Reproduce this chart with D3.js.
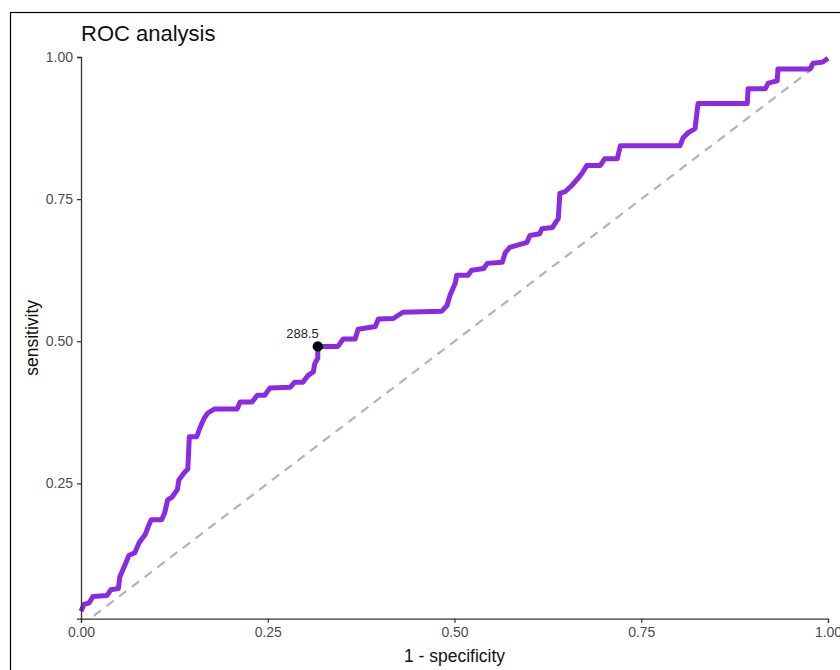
<!DOCTYPE html>
<html>
<head>
<meta charset="utf-8">
<script src="https://cdn.jsdelivr.net/npm/d3@7"></script>
<style>
  body { margin: 0; background: #fff; }
  svg { display: block; font-family: "Liberation Sans", Arial, sans-serif; }
</style>
</head>
<body>
<div id="chart"></div>
<script>
// ROC points: 1 - specificity and sensitivity
const fpr = [0, 0.004, 0.011, 0.016, 0.035, 0.040, 0.050, 0.052, 0.059, 0.064,
  0.072, 0.078, 0.086, 0.090, 0.094, 0.108, 0.112, 0.116, 0.122, 0.129,
  0.131, 0.139, 0.143, 0.145, 0.155, 0.159, 0.165, 0.170, 0.179, 0.209,
  0.213, 0.229, 0.236, 0.246, 0.253, 0.280, 0.286, 0.297, 0.304, 0.311,
  0.313, 0.317, 0.317, 0.344, 0.351, 0.367, 0.371, 0.394, 0.398, 0.418,
  0.431, 0.483, 0.490, 0.494, 0.501, 0.503, 0.518, 0.523, 0.539, 0.544,
  0.564, 0.568, 0.574, 0.597, 0.601, 0.614, 0.617, 0.631, 0.639, 0.641,
  0.648, 0.657, 0.665, 0.671, 0.677, 0.695, 0.701, 0.718, 0.722, 0.802,
  0.806, 0.813, 0.822, 0.826, 0.892, 0.893, 0.916, 0.920, 0.932, 0.933,
  0.976, 0.980, 0.993, 1.000];
const tpr = [0.025, 0.037, 0.040, 0.051, 0.053, 0.063, 0.065, 0.086, 0.107, 0.123,
  0.128, 0.146, 0.160, 0.174, 0.186, 0.186, 0.198, 0.221, 0.226, 0.239,
  0.256, 0.270, 0.275, 0.332, 0.332, 0.347, 0.365, 0.374, 0.381, 0.381,
  0.393, 0.393, 0.405, 0.405, 0.418, 0.419, 0.428, 0.428, 0.440, 0.446,
  0.461, 0.470, 0.491, 0.491, 0.504, 0.504, 0.521, 0.526, 0.539, 0.540,
  0.551, 0.553, 0.563, 0.581, 0.602, 0.616, 0.616, 0.625, 0.628, 0.637,
  0.639, 0.656, 0.665, 0.674, 0.686, 0.689, 0.698, 0.700, 0.716, 0.760,
  0.763, 0.774, 0.786, 0.796, 0.809, 0.809, 0.821, 0.821, 0.844, 0.844,
  0.858, 0.867, 0.874, 0.918, 0.918, 0.944, 0.944, 0.954, 0.958, 0.979,
  0.979, 0.989, 0.991, 0.998];

// optimal cutpoint marker
const cutLabel = "288.5";
const cutFpr = 0.317;
const cutTpr = 0.491;

const xTicks = [0, 0.25, 0.5, 0.75, 1];
const yTicks = [0.25, 0.5, 0.75, 1];

const W = 840, H = 670;
const margin = { left: 81, right: 12, top: 57, bottom: 51 };

const svg = d3.select('#chart').append('svg')
  .attr('width', W).attr('height', H);

// outer frame (runs past the right and bottom edges)
svg.append('rect')
  .attr('x', 10.5).attr('y', 12.5)
  .attr('width', W).attr('height', H)
  .attr('fill', 'none').attr('stroke', '#000').attr('stroke-width', 1.2);

const x = d3.scaleLinear().domain([0, 1]).range([margin.left, W - margin.right]);
const y = d3.scaleLinear().domain([0.012, 1]).range([H - margin.bottom - 0.3, margin.top]);

svg.append('clipPath').attr('id', 'panel')
  .append('rect')
  .attr('x', x(0)).attr('y', y(1) - 4)
  .attr('width', x(1) - x(0) + 4).attr('height', y(0.012) - y(1) + 4);

// chance diagonal
svg.append('line')
  .attr('clip-path', 'url(#panel)')
  .attr('x1', x(0)).attr('y1', y(0))
  .attr('x2', x(1)).attr('y2', y(1))
  .attr('stroke', '#b3b3b3').attr('stroke-width', 2.2)
  .attr('stroke-dasharray', '9,7');

// ROC curve
const pts = fpr.map((f, i) => [f, tpr[i]]);
svg.append('path')
  .datum(pts)
  .attr('fill', 'none')
  .attr('stroke', '#8a2be2')
  .attr('stroke-width', 5)
  .attr('stroke-linejoin', 'round')
  .attr('d', d3.line().x(d => x(d[0])).y(d => y(d[1])));

// cutpoint
svg.append('circle')
  .attr('cx', x(cutFpr)).attr('cy', y(cutTpr)).attr('r', 5.2)
  .attr('fill', '#000');
svg.append('text')
  .attr('x', x(cutFpr) + 1).attr('y', y(cutTpr) - 8)
  .attr('text-anchor', 'end')
  .attr('font-size', 13).attr('fill', '#222')
  .text(cutLabel);

// axes
const fmt = d3.format('.2f');
const xAxis = svg.append('g')
  .attr('transform', `translate(0,${y(0.012)})`)
  .call(d3.axisBottom(x).tickValues(xTicks).tickFormat(fmt).tickSize(4).tickPadding(4));
const yAxis = svg.append('g')
  .attr('transform', `translate(${x(0)},0)`)
  .call(d3.axisLeft(y).tickValues(yTicks).tickFormat(fmt).tickSize(4).tickPadding(4));

[xAxis, yAxis].forEach(g => {
  g.attr('font-size', null).attr('font-family', null);
  g.select('.domain').attr('stroke', '#333').attr('stroke-width', 1.3);
  g.selectAll('.tick line').attr('stroke', '#333').attr('stroke-width', 1.2);
  g.selectAll('.tick text')
    .attr('fill', '#4d4d4d')
    .style('font-size', '14px')
    .style('font-family', '"Liberation Sans", Arial, sans-serif');
});

// titles
svg.append('text')
  .attr('x', x(0)).attr('y', 41)
  .attr('font-size', 22).attr('fill', '#111')
  .text('ROC analysis');

svg.append('text')
  .attr('x', (x(0) + x(1)) / 2).attr('y', 662)
  .attr('text-anchor', 'middle')
  .attr('font-size', 17.5).attr('fill', '#111')
  .text('1 - specificity');

svg.append('text')
  .attr('transform', `translate(38,${(y(1) + y(0.012)) / 2}) rotate(-90)`)
  .attr('text-anchor', 'middle')
  .attr('font-size', 17.5).attr('fill', '#111')
  .text('sensitivity');
</script>
</body>
</html>
